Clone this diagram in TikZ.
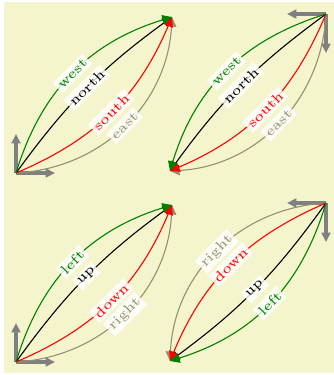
\documentclass[tikz,border=0pt]{standalone}
\usetikzlibrary{arrows.meta}
\definecolor{bgyellow}{RGB}{245,245,205}
\definecolor{tancol}{RGB}{150,144,108}
\definecolor{dgreen}{RGB}{0,128,0}
\begin{document}
\begin{tikzpicture}[x=0.0128205cm, y=0.0128205cm,
  curve/.style={line width=0.4pt, -{Triangle[length=3.5pt,width=3.5pt]}},
  axis/.style={draw=gray, line width=1.1pt, -{Triangle[length=3.4pt,width=3.2pt]}},
  lbl/.style={sloped, midway, fill=white, fill opacity=0.8, text opacity=1, inner sep=1pt, font=\tiny}]
\useasboundingbox (0,0) rectangle (334,375);
\fill[white] (0,0) rectangle (334,375);
\fill[bgyellow] (4,2) rectangle (334,373);

% top left
\coordinate (o1) at (16,202);  \coordinate (e1) at (172,358);
\coordinate (x1) at (55,202);  \coordinate (y1) at (16,241);
\draw[axis] (o1) -- (x1);
\draw[axis] (o1) -- (y1);
\draw[curve, tancol] (o1) to[bend right=42] node[lbl, text=tancol]{east} (e1);
\draw[curve, black] (o1) to[bend left=9] node[lbl, text=black]{north} (e1);
\draw[curve, red] (o1) to[bend right=22] node[lbl, text=red]{south} (e1);
\draw[curve, dgreen] (o1) to[bend left=28] node[lbl, text=dgreen]{west} (e1);

% top right
\coordinate (o2) at (326,361); \coordinate (e2) at (170,204);
\coordinate (x2) at (287,361); \coordinate (y2) at (326,322);
\draw[axis] (o2) -- (x2);
\draw[axis] (o2) -- (y2);
\draw[curve, tancol] (o2) to[bend left=42] node[lbl, text=tancol]{east} (e2);
\draw[curve, black] (o2) to[bend right=9] node[lbl, text=black]{north} (e2);
\draw[curve, red] (o2) to[bend left=22] node[lbl, text=red]{south} (e2);
\draw[curve, dgreen] (o2) to[bend right=28] node[lbl, text=dgreen]{west} (e2);

% bottom left
\coordinate (o3) at (16,13);   \coordinate (e3) at (172,170);
\coordinate (x3) at (55,13);   \coordinate (y3) at (16,52);
\draw[axis] (o3) -- (x3);
\draw[axis] (o3) -- (y3);
\draw[curve, tancol] (o3) to[bend right=42] node[lbl, text=tancol]{right} (e3);
\draw[curve, black] (o3) to[bend left=9] node[lbl, text=black]{up} (e3);
\draw[curve, red] (o3) to[bend right=22] node[lbl, text=red]{down} (e3);
\draw[curve, dgreen] (o3) to[bend left=28] node[lbl, text=dgreen]{left} (e3);

% bottom right
\coordinate (o4) at (326,172); \coordinate (e4) at (170,14);
\coordinate (x4) at (287,172); \coordinate (y4) at (326,133);
\draw[axis] (o4) -- (x4);
\draw[axis] (o4) -- (y4);
\draw[curve, tancol] (o4) to[bend right=42] node[lbl, text=tancol]{right} (e4);
\draw[curve, black] (o4) to[bend left=9] node[lbl, text=black]{up} (e4);
\draw[curve, red] (o4) to[bend right=22] node[lbl, text=red]{down} (e4);
\draw[curve, dgreen] (o4) to[bend left=28] node[lbl, text=dgreen]{left} (e4);
\end{tikzpicture}
\end{document}
